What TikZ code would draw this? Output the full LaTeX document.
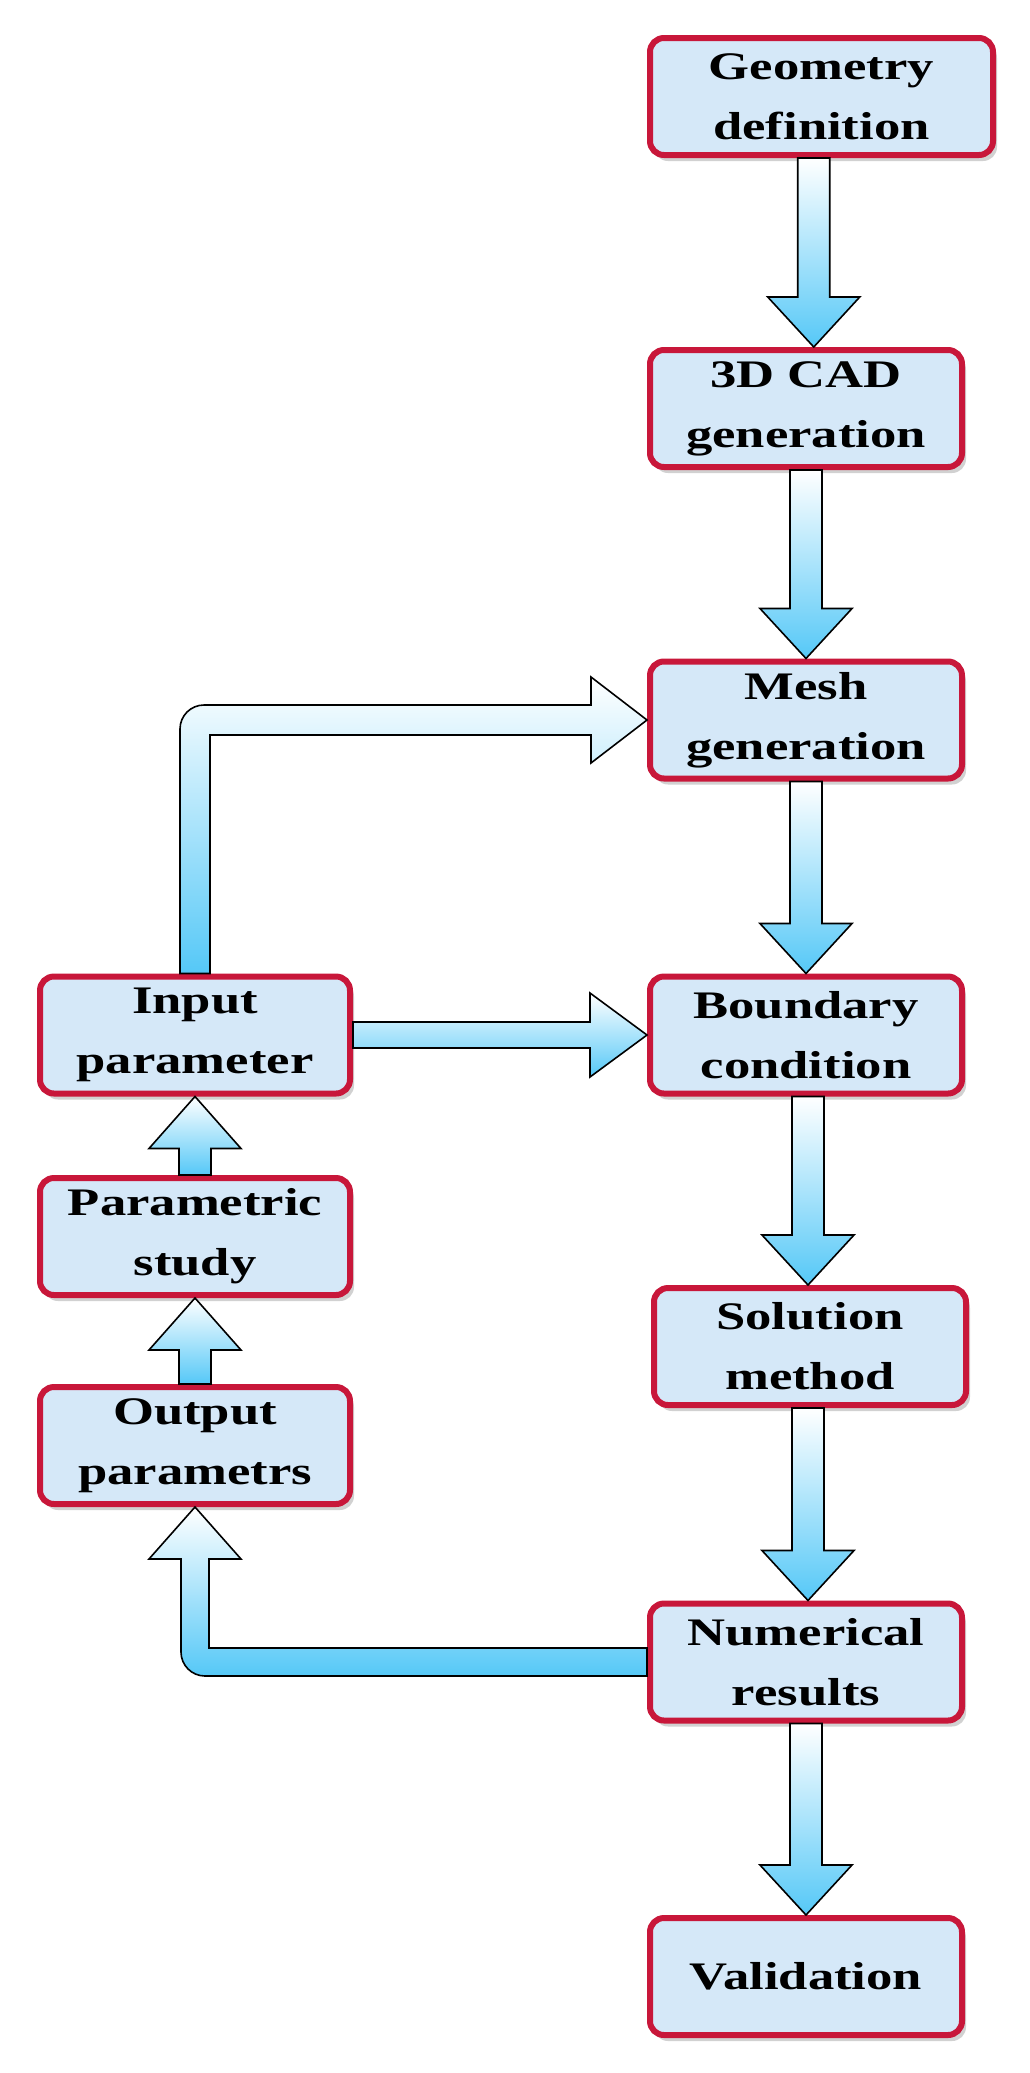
\documentclass[tikz,border=0pt]{standalone}
\usepackage{fontspec}
\newfontfamily\boxfont{Liberation Serif}[FakeStretch=1.35]
\usetikzlibrary{calc,shadows}
\definecolor{boxfill}{HTML}{D5E8F8}
\definecolor{boxline}{HTML}{C8173A}
\definecolor{arrblue}{HTML}{55C8F7}
\begin{document}
\begin{tikzpicture}[x=1pt,y=-1pt,
  box/.style={rectangle,rounded corners=14pt,draw=boxline,line width=6pt,fill=boxfill,
    minimum width=312pt,minimum height=117pt,inner sep=0pt,align=center,
    font=\boxfont\bfseries\fontsize{39}{60}\selectfont,
    drop shadow={shadow xshift=4pt,shadow yshift=-6pt,fill=gray!45,opacity=0.8}},
  barrow/.style={draw=black,line width=1.6pt,top color=white,bottom color=arrblue,line join=miter}]
\useasboundingbox (0,0) rectangle (1030,2073);
\node[box,minimum width=343pt] (geo) at (821.5,96.5) {Geometry\\definition};
\node[box] (cad) at (806,408.5) {3D CAD\\generation};
\node[box] (mesh) at (806,720) {Mesh\\generation};
\node[box] (bnd) at (806,1035) {Boundary\\condition};
\node[box] (sol) at (810,1346.5) {Solution\\method};
\node[box] (num) at (806,1662) {Numerical\\results};
\node[box] (val) at (806,1976.5) {Validation};
\node[box,minimum width=310pt] (inp) at (195,1035) {Input\\parameter};
\node[box,minimum width=310pt] (par) at (195,1236.5) {Parametric\\study};
\node[box,minimum width=310pt] (out) at (195,1445.5) {Output\\parametrs};
% down arrows
\newcommand\vdownarr[2]{%
  \path[barrow] let \p1=($(#1.south)!0.5!(#2.north)$), \p2=(#1.south), \p3=(#2.north) in
   (\x1-16pt,\y2) -- (\x1+16pt,\y2) -- (\x1+16pt,\y3+50pt) -- (\x1+46pt,\y3+50pt) -- (\x1,\y3)
   -- (\x1-46pt,\y3+50pt) -- (\x1-16pt,\y3+50pt) -- cycle;}
\newcommand\vuparr[2]{%
  \path[barrow] let \p1=($(#1.north)!0.5!(#2.south)$), \p2=(#1.north), \p3=(#2.south) in
   (\x1-16pt,\y2) -- (\x1+16pt,\y2) -- (\x1+16pt,\y3-52pt) -- (\x1+46pt,\y3-52pt) -- (\x1,\y3)
   -- (\x1-46pt,\y3-52pt) -- (\x1-16pt,\y3-52pt) -- cycle;}
\vdownarr{geo}{cad}
\vdownarr{cad}{mesh}
\vdownarr{mesh}{bnd}
\vdownarr{bnd}{sol}
\vdownarr{sol}{num}
\vdownarr{num}{val}
\vuparr{par}{inp}
\vuparr{out}{par}
% input -> boundary
\path[barrow] let \p1=(inp.east), \p2=(bnd.west) in
  (\x1,\y1+13pt) -- (\x2-57pt,\y1+13pt) -- (\x2-57pt,\y1+42pt) -- (\x2,\y2)
  -- (\x2-57pt,\y1-42pt) -- (\x2-57pt,\y1-13pt) -- (\x1,\y1-13pt) -- cycle;
% loop input -> mesh
\path[barrow] let \p1=(inp.north), \p2=(mesh.west) in
  (\x1-15pt,\y1) [rounded corners=24pt] -- (\x1-15pt,\y2+15pt) [sharp corners] -- (\x2-56pt,\y2+15pt)
  -- (\x2-56pt,\y2+43pt) -- (\x2,\y2) -- (\x2-56pt,\y2-43pt) -- (\x2-56pt,\y2-15pt)
  -- (\x1+15pt,\y2-15pt) -- (\x1+15pt,\y1) -- cycle;
% loop numerical -> output
\path[barrow] let \p1=(out.south), \p2=(num.west) in
  (\x2,\y2+14pt) -- (\x1+14pt,\y2+14pt) -- (\x1+14pt,\y1-52pt) -- (\x1+46pt,\y1-52pt)
  -- (\x1,\y1) -- (\x1-46pt,\y1-52pt) -- (\x1-14pt,\y1-52pt) [rounded corners=24pt]
  -- (\x1-14pt,\y2-14pt) [sharp corners] -- (\x2,\y2-14pt) -- cycle;
\end{tikzpicture}
\end{document}
